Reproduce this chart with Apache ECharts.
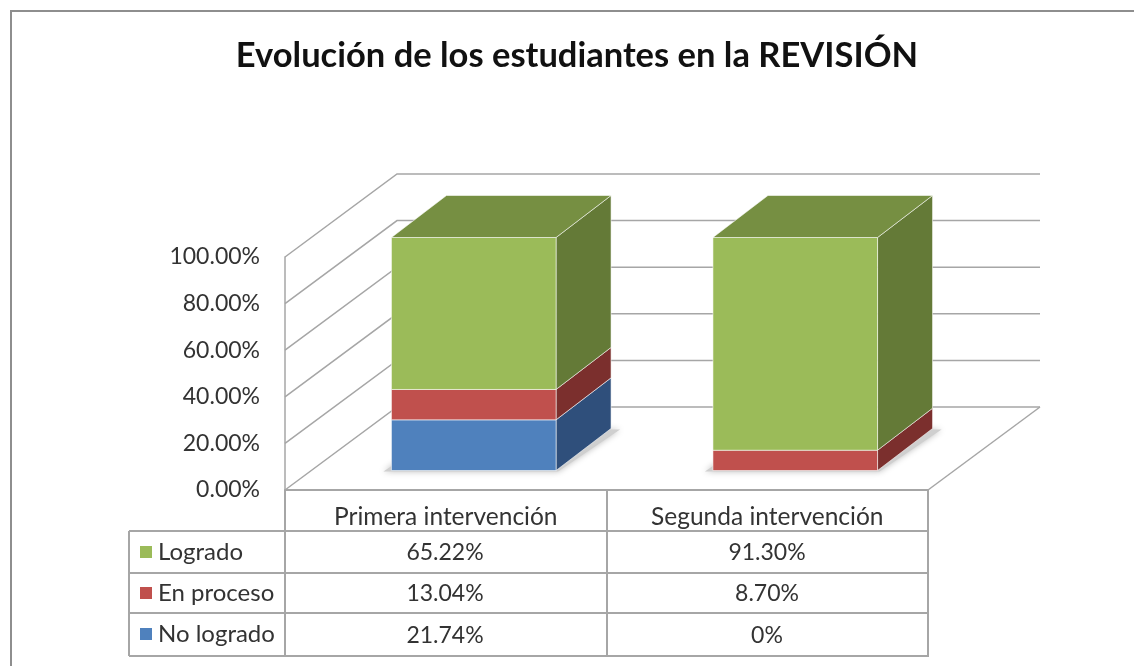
<!DOCTYPE html>
<html>
<head>
<meta charset="utf-8">
<title>Evolución de los estudiantes en la REVISIÓN</title>
<script src="https://cdn.jsdelivr.net/npm/echarts@6/dist/echarts.min.js"></script>
<style>
  html, body { margin: 0; padding: 0; background: #fff; }
  #chart { width: 1134px; height: 666px; }
</style>
</head>
<body>
<div id="chart"></div>
<script>
const categories = ["Primera intervención", "Segunda intervención"];
const noLogrado = [21.74, 0];
const enProceso = [13.04, 8.7];
const logrado = [65.22, 91.3];
const yTicks = [0, 20, 40, 60, 80, 100];
const tableLabels = {
  logrado: ["65.22%", "91.30%"],
  enProceso: ["13.04%", "8.70%"],
  noLogrado: ["21.74%", "0%"],
};

const FONT = "Lato";
const TEXT = "#333";
const LINE = "#a6a6a6";

// wall depth and bar depth of the fake 3d box
const wallDx = 112;
const wallDy = 83;
const barShiftX = 28;
const barShiftY = 19.5;
const barDx = 55;
const barDy = 42;

// stack: [category, base, top]
const stackRows = (values, bases) => values.map((v, i) => [i, bases[i], bases[i] + v]);
const blueRows = stackRows(noLogrado, [0, 0]);
const redRows = stackRows(enProceso, noLogrado);
const greenRows = stackRows(logrado, noLogrado.map((v, i) => v + enProceso[i]));

const wallItem = (params, api) => {
  const cs = params.coordSys;
  const y = api.coord([0, api.value(0)])[1];
  const children = [
    {
      type: "polyline",
      shape: {
        points: [
          [cs.x, y],
          [cs.x + wallDx, y - wallDy],
          [cs.x + cs.width + wallDx, y - wallDy],
        ],
      },
      style: { stroke: LINE, lineWidth: 1.5, fill: null },
    },
  ];
  if (api.value(0) === 0) {
    children.push({
      type: "line",
      shape: { x1: cs.x + cs.width, y1: y, x2: cs.x + cs.width + wallDx, y2: y - wallDy },
      style: { stroke: LINE, lineWidth: 1.5 },
    });
  }
  return { type: "group", children };
};

const shadowItem = (params, api) => {
  const base = api.coord([api.value(0), 0]);
  const w = api.size([1, 0])[0] * 0.512;
  const x0 = base[0] - w / 2 + barShiftX;
  const x1 = x0 + w;
  const y = base[1] - barShiftY;
  return {
    type: "polygon",
    shape: {
      points: [
        [x0 - 8, y + 1],
        [x1 + 2, y + 1],
        [x1 + barDx + 9, y - barDy + 1],
        [x0 + barDx, y - barDy],
      ],
    },
    style: { fill: "#cfcfcf", shadowBlur: 6, shadowColor: "#bdbdbd" },
  };
};

const barItem = (front, side, top) => (params, api) => {
  const base = api.coord([api.value(0), api.value(1)]);
  const peak = api.coord([api.value(0), api.value(2)]);
  if (base[1] - peak[1] < 0.5) return null;
  const w = api.size([1, 0])[0] * 0.512;
  const x0 = base[0] - w / 2 + barShiftX;
  const x1 = x0 + w;
  const y0 = base[1] - barShiftY;
  const y1 = peak[1] - barShiftY;
  const edge = { stroke: "rgba(255,255,255,0.55)", lineWidth: 1 };
  const children = [
    {
      type: "polygon",
      shape: { points: [[x1, y0], [x1 + barDx, y0 - barDy], [x1 + barDx, y1 - barDy], [x1, y1]] },
      style: { fill: side, ...edge },
    },
    {
      type: "rect",
      shape: { x: x0, y: y1, width: w, height: y0 - y1 },
      style: { fill: front, ...edge },
    },
  ];
  if (top) {
    children.push({
      type: "polygon",
      shape: { points: [[x0, y1], [x1, y1], [x1 + barDx, y1 - barDy], [x0 + barDx, y1 - barDy]] },
      style: { fill: top, ...edge },
    });
  }
  return { type: "group", children };
};

const barSeries = (name, rows, color, item) => ({
  name,
  type: "custom",
  coordinateSystem: "cartesian2d",
  data: rows,
  encode: { x: 0, y: [1, 2] },
  itemStyle: { color },
  renderItem: item,
  silent: true,
});

// table of values under the plot
const rowLabels = [tableLabels.logrado, tableLabels.enProceso, tableLabels.noLogrado];
const rowCenters = [553, 594, 636];
const colCenters = [445, 767];
const tableY = [531, 573, 613, 656];
const tableElements = [];
const tableLine = (x1, y1, x2, y2) =>
  tableElements.push({
    type: "line",
    shape: { x1, y1, x2, y2 },
    style: { stroke: LINE, lineWidth: 2 },
    silent: true,
  });
tableY.forEach((y) => tableLine(129, y, 929, y));
tableLine(129, 531, 129, 656);
tableLine(285, 490, 285, 656);
tableLine(607, 490, 607, 656);
tableLine(928, 490, 928, 656);
rowLabels.forEach((labels, r) => {
  labels.forEach((text, c) => {
    tableElements.push({
      type: "text",
      x: colCenters[c],
      y: rowCenters[r],
      style: {
        text,
        font: `23px ${FONT}`,
        fill: TEXT,
        textAlign: "center",
        textVerticalAlign: "middle",
      },
      silent: true,
    });
  });
});

const chart = echarts.init(document.getElementById("chart"));
const option = {
  animation: false,
  backgroundColor: "#fff",
  title: {
    text: "Evolución de los estudiantes en la REVISIÓN",
    left: 572,
    top: 33,
    textAlign: "center",
    textStyle: { color: "#111", fontFamily: FONT, fontWeight: "bold", fontSize: 34.5 },
  },
  legend: {
    orient: "vertical",
    left: 140,
    top: 540,
    padding: 0,
    itemWidth: 12,
    itemHeight: 12,
    itemGap: 17,
    selectedMode: false,
    data: [
      { name: "Logrado", icon: "rect" },
      { name: "En proceso", icon: "rect" },
      { name: "No logrado", icon: "rect" },
    ],
    textStyle: { color: TEXT, fontFamily: FONT, fontSize: 24, padding: [0, 0, 0, 1], lineHeight: 24 },
  },
  grid: { left: 285, top: 257, width: 643, height: 233, containLabel: false },
  xAxis: {
    type: "category",
    data: categories,
    axisLine: { lineStyle: { color: LINE, width: 2 } },
    axisTick: { show: false },
    axisLabel: { color: TEXT, fontFamily: FONT, fontSize: 24.5, margin: 15 },
  },
  yAxis: {
    type: "value",
    min: 0,
    max: 100,
    interval: 20,
    axisLine: { show: true, lineStyle: { color: LINE, width: 1.5 } },
    axisTick: { show: false },
    splitLine: { show: false },
    axisLabel: {
      color: TEXT,
      fontFamily: FONT,
      fontSize: 23,
      margin: 25,
      padding: [4, 0, 0, 0],
      formatter: (v) => v.toFixed(2) + "%",
    },
  },
  graphic: [
    {
      type: "rect",
      shape: { x: 11, y: 11, width: 1300, height: 900 },
      style: { fill: null, stroke: "#8e8e8e", lineWidth: 2 },
      silent: true,
    },
    ...tableElements,
  ],
  series: [
    {
      type: "custom",
      coordinateSystem: "cartesian2d",
      data: yTicks.map((t) => [t]),
      encode: { y: 0 },
      renderItem: wallItem,
      silent: true,
    },
    {
      type: "custom",
      coordinateSystem: "cartesian2d",
      data: categories.map((c, i) => [i]),
      encode: { x: 0 },
      renderItem: shadowItem,
      silent: true,
    },
    barSeries("No logrado", blueRows, "#4f81bd", barItem("#4f81bd", "#2f4f7b", null)),
    barSeries("En proceso", redRows, "#c0504d", barItem("#c0504d", "#7b2f2d", null)),
    barSeries("Logrado", greenRows, "#9bbb59", barItem("#9bbb59", "#647a37", "#768f42")),
  ],
};
chart.setOption(option);
window.addEventListener("resize", () => chart.resize());
</script>
</body>
</html>
